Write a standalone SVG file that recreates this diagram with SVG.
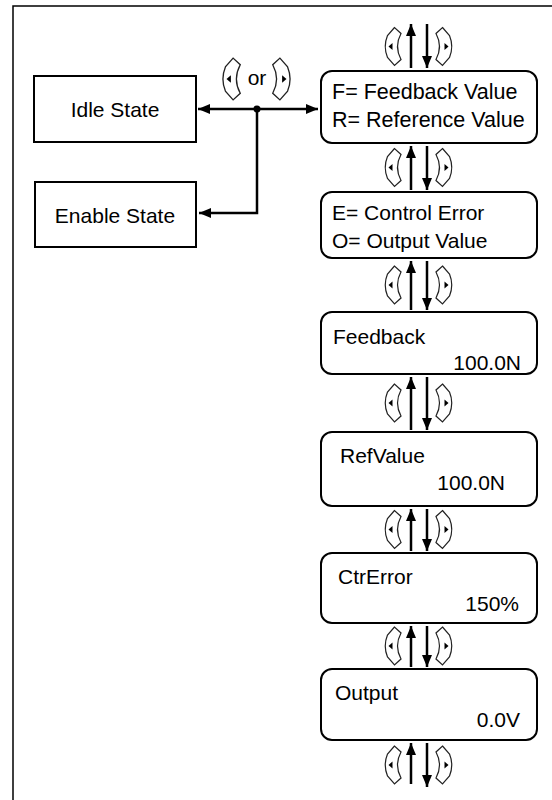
<svg xmlns="http://www.w3.org/2000/svg" xmlns:xlink="http://www.w3.org/1999/xlink" width="552" height="800" viewBox="0 0 552 800">
<style>
.box{fill:#fff;stroke:#000;stroke-width:2}
.t{font-family:"Liberation Sans",Arial,sans-serif;font-size:21px;fill:#000}
.key{fill:#fff;stroke:#222;stroke-width:1.2}
.tri{fill:#000}
.conn{stroke:#000;stroke-width:2.5;fill:none}
.frame{stroke:#000;stroke-width:1.5;fill:none}
</style>
<defs>
<marker id="ah" viewBox="0 0 12 10" refX="12" refY="5" markerWidth="12" markerHeight="10" markerUnits="userSpaceOnUse" orient="auto">
<path d="M0,0 L12,5 L0,10 Z" fill="#000"/>
</marker>
<g id="keyL">
<path class="key" d="M1,-19 L-6,-11 Q-10.5,0 -6,11 L1,19 L7.5,13 Q0.5,0 7.5,-13 Z"/>
<path class="tri" d="M-5,0 L-1,-3.5 L-1,3.5 Z"/>
</g>
<g id="keyR">
<use xlink:href="#keyL" transform="scale(-1,1)"/>
</g>
</defs>

<g id="frame">
<path class="frame" d="M13,800 L13,6 L552,6"/>
</g>

<g id="idle">
<rect class="box" x="34" y="76" width="162" height="66"/>
<text class="t" x="115" y="117" text-anchor="middle">Idle State</text>
</g>
<g id="enable">
<rect class="box" x="35" y="182" width="161" height="65"/>
<text class="t" x="115" y="223" text-anchor="middle">Enable State</text>
</g>

<g id="or-keys">
<use xlink:href="#keyL" transform="translate(232,79) scale(1.1)"/>
<text class="t" x="257" y="85" text-anchor="middle">or</text>
<use xlink:href="#keyR" transform="translate(281,79) scale(1.1)"/>
</g>

<g id="box1">
<rect class="box" x="321" y="71" width="216" height="72" rx="11"/>
<text class="t" x="332" y="99" style="font-size:21.5px">F= Feedback Value</text>
<text class="t" x="332" y="127" style="font-size:21.5px">R= Reference Value</text>
</g>
<g id="box2">
<rect class="box" x="321" y="192" width="216" height="66" rx="11"/>
<text class="t" x="332" y="220">E= Control Error</text>
<text class="t" x="332" y="248">O= Output Value</text>
</g>
<g id="box3">
<rect class="box" x="321" y="312" width="216" height="62" rx="11"/>
<text class="t" x="333" y="344">Feedback</text>
<text class="t" x="521" y="370" text-anchor="end">100.0N</text>
</g>
<g id="box4">
<rect class="box" x="321" y="432" width="216" height="74" rx="11"/>
<text class="t" x="340" y="463">RefValue</text>
<text class="t" x="505" y="490" text-anchor="end">100.0N</text>
</g>
<g id="box5">
<rect class="box" x="321" y="553" width="216" height="70" rx="11"/>
<text class="t" x="338" y="584">CtrError</text>
<text class="t" x="519" y="611" text-anchor="end">150%</text>
</g>
<g id="box6">
<rect class="box" x="321" y="669" width="216" height="71" rx="11"/>
<text class="t" x="335" y="700">Output</text>
<text class="t" x="520" y="727" text-anchor="end">0.0V</text>
</g>

<g id="nav-keys">
<use xlink:href="#keyL" transform="translate(393.5,46.5)"/>
<use xlink:href="#keyR" transform="translate(443.5,46.5)"/>
<use xlink:href="#keyL" transform="translate(393.5,167.5)"/>
<use xlink:href="#keyR" transform="translate(443.5,167.5)"/>
<use xlink:href="#keyL" transform="translate(393.5,285)"/>
<use xlink:href="#keyR" transform="translate(443.5,285)"/>
<use xlink:href="#keyL" transform="translate(393.5,403)"/>
<use xlink:href="#keyR" transform="translate(443.5,403)"/>
<use xlink:href="#keyL" transform="translate(393.5,529.5)"/>
<use xlink:href="#keyR" transform="translate(443.5,529.5)"/>
<use xlink:href="#keyL" transform="translate(393.5,646)"/>
<use xlink:href="#keyR" transform="translate(443.5,646)"/>
<use xlink:href="#keyL" transform="translate(393.5,765)"/>
<use xlink:href="#keyR" transform="translate(443.5,765)"/>
</g>

<g id="connectors">
<line class="conn" x1="257" y1="109" x2="198" y2="109" marker-end="url(#ah)"/>
<line class="conn" x1="257" y1="109" x2="318" y2="109" marker-end="url(#ah)"/>
<polyline class="conn" points="257,109 257,213 199,213" marker-end="url(#ah)"/>
<circle cx="257" cy="109" r="3.5" fill="#000"/>

<line class="conn" x1="411" y1="68" x2="411" y2="24" marker-end="url(#ah)"/>
<line class="conn" x1="427" y1="24" x2="427" y2="68" marker-end="url(#ah)"/>
<line class="conn" x1="411" y1="190" x2="411" y2="146" marker-end="url(#ah)"/>
<line class="conn" x1="427" y1="146" x2="427" y2="190" marker-end="url(#ah)"/>
<line class="conn" x1="411" y1="310" x2="411" y2="261" marker-end="url(#ah)"/>
<line class="conn" x1="427" y1="261" x2="427" y2="310" marker-end="url(#ah)"/>
<line class="conn" x1="411" y1="430" x2="411" y2="377" marker-end="url(#ah)"/>
<line class="conn" x1="427" y1="377" x2="427" y2="430" marker-end="url(#ah)"/>
<line class="conn" x1="411" y1="551" x2="411" y2="509" marker-end="url(#ah)"/>
<line class="conn" x1="427" y1="509" x2="427" y2="551" marker-end="url(#ah)"/>
<line class="conn" x1="411" y1="667" x2="411" y2="626" marker-end="url(#ah)"/>
<line class="conn" x1="427" y1="626" x2="427" y2="667" marker-end="url(#ah)"/>
<line class="conn" x1="411" y1="784" x2="411" y2="743" marker-end="url(#ah)"/>
<line class="conn" x1="427" y1="743" x2="427" y2="787" marker-end="url(#ah)"/>
</g>
</svg>
